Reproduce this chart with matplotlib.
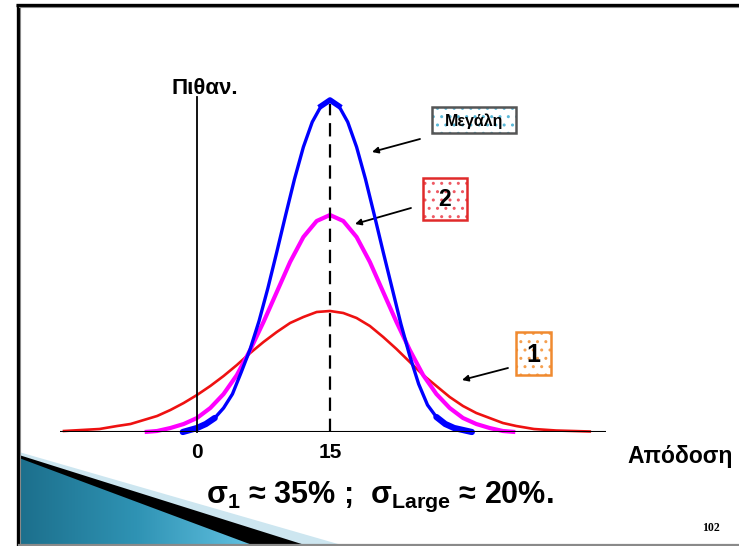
import matplotlib.pyplot as plt
import numpy as np
from matplotlib.patches import Polygon, Rectangle
from matplotlib.colors import LinearSegmentedColormap

plt.rcParams['font.family'] = ['Liberation Sans', 'DejaVu Sans']
plt.rcParams['mathtext.fontset'] = 'custom'
plt.rcParams['mathtext.rm'] = 'Liberation Sans:bold'
plt.rcParams['mathtext.bf'] = 'Liberation Sans:bold'
plt.rcParams['mathtext.it'] = 'Liberation Sans:bold'
plt.rcParams['hatch.linewidth'] = 1.0

# curve 1 (wide, red)
red_x = [-15.0, -13.0, -11.0, -9.0, -7.5, -6.0, -4.5, -3.0, -1.5, 0.0, 1.5, 3.0, 4.5,
         6.0, 7.5, 9.0, 10.5, 12.0, 13.5, 15.0, 16.5, 18.0, 19.5, 21.0, 22.5, 24.0,
         25.5, 27.0, 28.5, 30.0, 31.5, 33.0, 34.5, 36.0, 38.0, 40.5, 44.3]
red_y = [0.01, 0.02, 0.03, 0.06, 0.08, 0.12, 0.16, 0.22, 0.29, 0.37, 0.46, 0.56, 0.67,
         0.79, 0.90, 1.00, 1.09, 1.15, 1.20, 1.21, 1.19, 1.14, 1.06, 0.95, 0.83, 0.70,
         0.57, 0.46, 0.35, 0.26, 0.19, 0.14, 0.09, 0.06, 0.03, 0.015, 0.005]

# curve 2 (magenta)
mag_x = [-5.9, -4.5, -3.0, -1.5, 0.0, 1.5, 3.0, 4.5, 6.0, 7.5, 9.0, 10.5, 12.0, 13.5,
         15.0, 16.5, 18.0, 19.5, 21.0, 22.5, 24.0, 25.5, 27.0, 28.5, 30.0, 31.5, 33.0,
         34.5, 35.9]
mag_y = [0.00, 0.01, 0.04, 0.08, 0.14, 0.24, 0.38, 0.57, 0.82, 1.10, 1.40, 1.70, 1.95,
         2.11, 2.17, 2.11, 1.95, 1.70, 1.40, 1.10, 0.82, 0.57, 0.38, 0.24, 0.14, 0.08,
         0.04, 0.01, 0.00]

# large portfolio (blue)
blue_x = [-1.6, 0.0, 1.0, 2.0, 3.0, 4.0, 5.0, 6.0, 7.0, 8.0, 9.0, 10.0, 11.0, 12.0,
          13.0, 14.0, 15.0, 16.0, 17.0, 18.0, 19.0, 20.0, 21.0, 22.0, 23.0, 24.0,
          25.0, 26.0, 27.0, 28.0, 29.0, 31.0]
blue_y = [0.00, 0.04, 0.08, 0.14, 0.24, 0.38, 0.60, 0.83, 1.11, 1.44, 1.80, 2.17, 2.53,
          2.85, 3.10, 3.26, 3.32, 3.26, 3.10, 2.85, 2.53, 2.17, 1.80, 1.44, 1.08, 0.76,
          0.48, 0.27, 0.15, 0.08, 0.04, 0.00]

tick_vals = [0, 15]
tick_text = ['0', '15']
mean_ret = 15

box_text = ['Μεγάλη', '2', '1']
box_edge = ['#555555', '#e02a2a', '#f08a30']
box_dots = ['#5ab8d8', '#ee5a64', '#f5a050']

fig = plt.figure(figsize=(7.39, 5.46), dpi=100)

# slide background, pixel coordinates
bg = fig.add_axes([0, 0, 1, 1])
bg.set_xlim(0, 739)
bg.set_ylim(546, 0)
bg.axis('off')

bg.plot([17.5, 17.5], [4, 546], color='black', lw=2.4, solid_capstyle='butt')
bg.plot([19.8, 19.8], [7, 546], color='#888888', lw=0.8)
bg.plot([16, 739], [5, 5], color='black', lw=2.4, solid_capstyle='butt')
bg.plot([19, 739], [7.3, 7.3], color='#888888', lw=0.8)
bg.plot([19, 739], [544.5, 544.5], color='#8a8a8a', lw=1.6)

# swoosh in the bottom-left corner
bg.add_patch(Polygon([(19, 452), (345, 546), (19, 546)], closed=True,
                     facecolor='#cde6f0', edgecolor='none'))
bg.add_patch(Polygon([(19, 455), (308, 546), (19, 546)], closed=True,
                     facecolor='black', edgecolor='none'))
teal = Polygon([(19, 458), (255, 546), (19, 546)], closed=True,
               facecolor='none', edgecolor='none')
bg.add_patch(teal)
grad = np.linspace(0, 1, 256).reshape(1, -1)
cmap = LinearSegmentedColormap.from_list('tl', ['#1c6f8c', '#2f93b4', '#63c2e2'])
img = bg.imshow(grad, cmap=cmap, extent=[19, 255, 546, 452], aspect='auto', zorder=1)
img.set_clip_path(teal)

# label boxes and arrows
boxes = [(432, 107, 84, 26), (423, 178, 44, 42), (516, 332, 35, 43)]
arrows = [((420, 139), (372, 152)), ((411, 208), (355, 224)), ((508, 368), (462, 380))]
sizes = [11.5, 16.5, 18]
for (bx, by, bw, bh), txt, ec, dc, fs in zip(boxes, box_text, box_edge, box_dots, sizes):
    bg.add_patch(Rectangle((bx, by), bw, bh, facecolor='white', edgecolor=dc,
                           hatch='..', lw=0, zorder=3))
    bg.add_patch(Rectangle((bx, by), bw, bh, fill=False, edgecolor=ec, lw=1.8, zorder=4))
    bg.text(bx + bw / 2, by + bh / 2 + 1, txt, ha='center', va='center',
            fontsize=fs, fontweight='bold', zorder=5)
for tail, head in arrows:
    bg.annotate('', xy=head, xytext=tail,
                arrowprops=dict(arrowstyle='-|>', color='black', lw=1.3,
                                mutation_scale=9, shrinkA=0, shrinkB=0))

# chart area
ax = fig.add_axes([60 / 739, (546 - 432) / 546, 546 / 739, 342 / 546])
ax.patch.set_alpha(0)
ax.set_xlim(-15.45, 46.13)
ax.set_ylim(0, 3.42)
ax.axis('off')

ax.plot(red_x, red_y, color='#ee1111', lw=1.9, zorder=3, clip_on=False)
ax.plot(mag_x, mag_y, color='#ff00ff', lw=3.0, zorder=4, clip_on=False,
        solid_capstyle='butt')
ax.plot(blue_x, blue_y, color='#0000ff', lw=2.4, zorder=5, clip_on=False)
# heavier strokes at the tails and the peak
ax.plot(blue_x[:4], blue_y[:4], color='#0000ff', lw=4.5, zorder=5, clip_on=False,
        solid_capstyle='round')
ax.plot(blue_x[-4:], blue_y[-4:], color='#0000ff', lw=4.5, zorder=5, clip_on=False,
        solid_capstyle='round')
ax.plot(blue_x[15:18], blue_y[15:18], color='#0000ff', lw=4.0, zorder=5, clip_on=False)

ax.axhline(0, color='black', lw=1.5, zorder=6)
ax.plot([0, 0], [0, 3.35], color='black', lw=1.3, zorder=6, clip_on=False)
ax.plot([mean_ret, mean_ret], [0, 3.28], color='black', lw=1.6, zorder=6,
        dashes=(6, 3.5), clip_on=False)

for v, t in zip(tick_vals, tick_text):
    ax.text(v, -0.21, t, ha='center', va='center', fontsize=15, fontweight='bold',
            clip_on=False)

bg.text(205, 88, 'Πιθαν.', ha='center', va='center', fontsize=16, fontweight='bold')
bg.text(680, 456, 'Απόδοση', ha='center', va='center', fontsize=16.5, fontweight='bold')
bg.text(380, 497, r'σ$_\mathbf{1}$ ≈ 35% ;  σ$_\mathbf{Large}$ ≈ 20%.', ha='center',
        va='center', fontsize=22, fontweight='bold', zorder=6)
bg.text(711, 528, '102', ha='center', va='center', fontsize=8.5, fontweight='bold',
        family='Liberation Serif')

fig.savefig('out.png', dpi=100)
